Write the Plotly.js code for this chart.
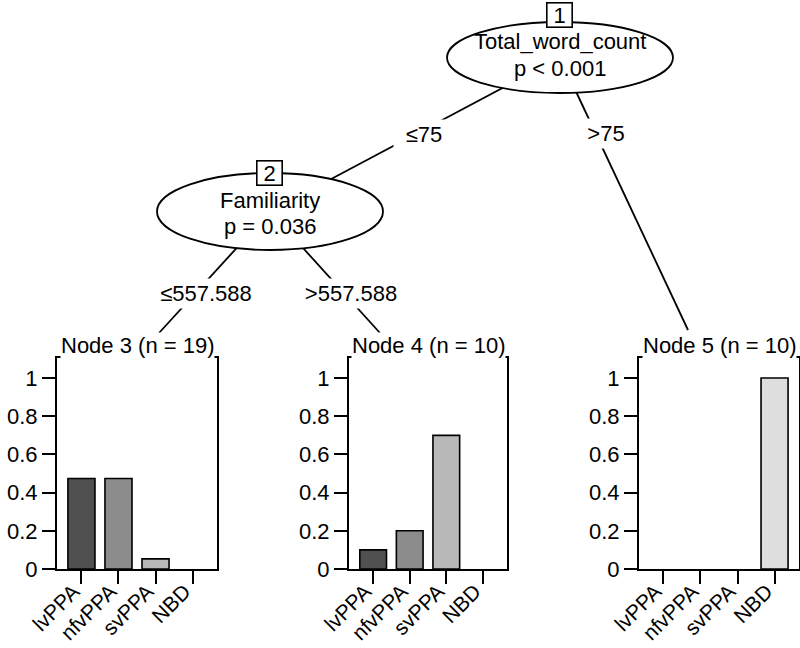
<!DOCTYPE html>
<html>
<head>
<meta charset="utf-8">
<script src="https://cdn.plot.ly/plotly-3.0.1.min.js"></script>
<style>html,body{margin:0;padding:0;background:#fff;}#chart{width:800px;height:648px;}</style>
</head>
<body>
<div id="chart"></div>
<script>
// ---- data ----
const categories = ['lvPPA', 'nfvPPA', 'svPPA', 'NBD'];
const node3Values = [0.474, 0.474, 0.053, 0];
const node4Values = [0.1, 0.2, 0.7, 0];
const node5Values = [0, 0, 0, 1];
const leafTitles = ['Node 3 (n = 19)', 'Node 4 (n = 10)', 'Node 5 (n = 10)'];
const yTickVals = [0, 0.2, 0.4, 0.6, 0.8, 1];
const yTickText = ['0', '0.2', '0.4', '0.6', '0.8', '1'];
const innerNodeIds = ['1', '2'];
const innerNodeVars = ['Total_word_count', 'Familiarity'];
const innerNodeP = ['p < 0.001', 'p = 0.036'];
const edgeLabels = ['\u226475', '>75', '\u2264557.588', '>557.588'];

// ---- styles / layout geometry (pixels) ----
const W = 800, H = 648;
const FONT = 'Liberation Sans, Arial, sans-serif';
const FS = 22;
const FS_X = 21;
const barColors = ['#505050', '#8c8c8c', '#b8b8b8', '#dedede'];
const X = p => p / W;
const Y = p => 1 - p / H;

const panels = [
  {x0: 57, x1: 217},
  {x0: 349, x1: 507},
  {x0: 639, x1: 799}
];
const panelTop = 358, panelBottom = 569;
const yMax = 1.105;

const inner = [
  {cx: 560, cy: 57.5, rx: 113, ry: 35.5, box: {cx: 559.5, cy: 15}, l1: 42, l2: 68},
  {cx: 270, cy: 211.5, rx: 113, ry: 38.5, box: {cx: 269.5, cy: 173}, l1: 201, l2: 226}
];
const leafAnchors = [{x: 159, y: 333}, {x: 380, y: 333}, {x: 688, y: 330}];
const edges = [
  {from: inner[0], to: {x: inner[1].cx, y: inner[1].cy}, lab: {x: 424, y: 134}},
  {from: inner[0], to: leafAnchors[2], lab: {x: 606, y: 133}},
  {from: inner[1], to: leafAnchors[0], lab: {x: 205.5, y: 293}},
  {from: inner[1], to: leafAnchors[1], lab: {x: 350.5, y: 293}}
];

const seriesList = [node3Values, node4Values, node5Values];
const traces = seriesList.map((vals, i) => ({
  type: 'bar',
  x: categories,
  y: vals,
  xaxis: i === 0 ? 'x' : 'x' + (i + 1),
  yaxis: i === 0 ? 'y' : 'y' + (i + 1),
  width: 0.73,
  marker: {color: barColors, line: {color: '#000', width: vals.map(v => v > 0 ? 1.6 : 0)}},
  hoverinfo: 'skip',
  showlegend: false
}));

const layout = {
  width: W, height: H,
  margin: {l: 0, r: 0, t: 0, b: 0},
  paper_bgcolor: '#fff', plot_bgcolor: '#fff',
  font: {family: FONT, size: FS, color: '#000'},
  showlegend: false,
  bargap: 0,
  shapes: [],
  annotations: []
};

panels.forEach((p, i) => {
  const xa = i === 0 ? 'xaxis' : 'xaxis' + (i + 1);
  const ya = i === 0 ? 'yaxis' : 'yaxis' + (i + 1);
  const yId = i === 0 ? 'y' : 'y' + (i + 1);
  const xId = i === 0 ? 'x' : 'x' + (i + 1);
  layout[xa] = {
    domain: [X(p.x0), X(p.x1)], anchor: yId, type: 'category',
    range: [-0.66, 3.66], tickangle: -45,
    ticks: 'outside', ticklen: 13, tickwidth: 2, tickcolor: '#000',
    ticklabelstandoff: -13, ticklabelshift: -8,
    showline: true, linewidth: 2, linecolor: '#000', mirror: true,
    showgrid: false, zeroline: false, fixedrange: true,
    tickfont: {family: FONT, size: FS_X, color: '#000'}
  };
  layout[ya] = {
    domain: [Y(panelBottom), Y(panelTop)], anchor: xId,
    range: [0, yMax], tickvals: yTickVals, ticktext: yTickText,
    ticks: 'outside', ticklen: 13, tickwidth: 2, tickcolor: '#000',
    showline: true, linewidth: 2, linecolor: '#000', mirror: true,
    showgrid: false, zeroline: false, fixedrange: true,
    tickfont: {family: FONT, size: FS, color: '#000'}
  };
  layout.annotations.push({
    xref: 'paper', yref: 'paper', x: X((p.x0 + p.x1) / 2), y: Y(345),
    xanchor: 'center', yanchor: 'middle', showarrow: false,
    text: leafTitles[i], bgcolor: '#fff', borderpad: 0,
    font: {family: FONT, size: FS, color: '#000'}
  });
});

// edges (drawn first, under ellipses)
edges.forEach((e, i) => {
  layout.shapes.push({
    type: 'line', xref: 'paper', yref: 'paper', layer: 'above',
    x0: X(e.from.cx), y0: Y(e.from.cy), x1: X(e.to.x), y1: Y(e.to.y),
    line: {color: '#000', width: 1.8}
  });
  layout.annotations.push({
    xref: 'paper', yref: 'paper', x: X(e.lab.x), y: Y(e.lab.y),
    xanchor: 'center', yanchor: 'middle', showarrow: false,
    text: edgeLabels[i], bgcolor: '#fff', borderpad: 2,
    width: i < 2 ? 56 : 106,
    font: {family: FONT, size: FS, color: '#000'}
  });
});

// inner nodes
inner.forEach((n, i) => {
  layout.shapes.push({
    type: 'circle', xref: 'paper', yref: 'paper', layer: 'above',
    x0: X(n.cx - n.rx), x1: X(n.cx + n.rx), y0: Y(n.cy + n.ry), y1: Y(n.cy - n.ry),
    fillcolor: '#fff', line: {color: '#000', width: 1.8}
  });
  layout.annotations.push({
    xref: 'paper', yref: 'paper', x: X(n.cx), y: Y(n.l1),
    xanchor: 'center', yanchor: 'middle', showarrow: false,
    text: innerNodeVars[i], font: {family: FONT, size: FS, color: '#000'}
  });
  layout.annotations.push({
    xref: 'paper', yref: 'paper', x: X(n.cx), y: Y(n.l2),
    xanchor: 'center', yanchor: 'middle', showarrow: false,
    text: innerNodeP[i], font: {family: FONT, size: FS, color: '#000'}
  });
  layout.annotations.push({
    xref: 'paper', yref: 'paper', x: X(n.box.cx), y: Y(n.box.cy),
    xanchor: 'center', yanchor: 'middle', showarrow: false,
    text: innerNodeIds[i], bgcolor: '#fff', bordercolor: '#000', borderwidth: 1.6,
    borderpad: 0, width: 24, height: 23,
    font: {family: FONT, size: FS, color: '#000'}
  });
});

Plotly.newPlot('chart', traces, layout, {staticPlot: true, displayModeBar: false});
</script>
</body>
</html>
